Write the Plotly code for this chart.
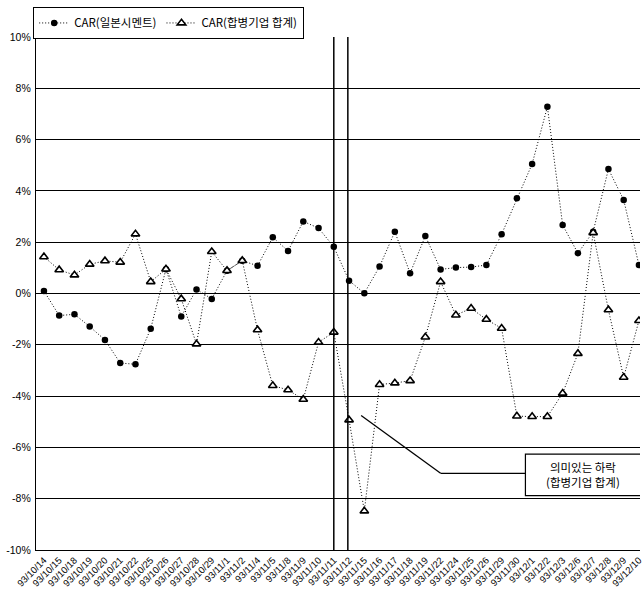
import plotly.graph_objects as go

# Trading days (yy/mm/dd)
dates = [
    "93/10/14", "93/10/15", "93/10/18", "93/10/19", "93/10/20", "93/10/21",
    "93/10/22", "93/10/25", "93/10/26", "93/10/27", "93/10/28", "93/10/29",
    "93/11/1", "93/11/2", "93/11/4", "93/11/5", "93/11/8", "93/11/9",
    "93/11/10", "93/11/11", "93/11/12", "93/11/15", "93/11/16", "93/11/17",
    "93/11/18", "93/11/19", "93/11/22", "93/11/24", "93/11/25", "93/11/26",
    "93/11/29", "93/11/30", "93/12/1", "93/12/2", "93/12/3", "93/12/6",
    "93/12/7", "93/12/8", "93/12/9", "93/12/10",
]

# Cumulative abnormal returns (%)
car_ilbon = [
    0.10, -0.86, -0.81, -1.29, -1.81, -2.71, -2.76, -1.37, 0.95, -0.90,
    0.16, -0.21, 0.89, 1.28, 1.08, 2.19, 1.66, 2.81, 2.55, 1.82,
    0.50, 0.01, 1.05, 2.41, 0.79, 2.24, 0.94, 1.01, 1.03, 1.11,
    2.31, 3.71, 5.05, 7.28, 2.67, 1.57, 2.41, 4.85, 3.65, 1.11,
]
car_merged = [
    1.43, 0.92, 0.72, 1.14, 1.27, 1.22, 2.32, 0.46, 0.95, -0.21,
    -1.97, 1.63, 0.89, 1.28, -1.42, -3.59, -3.76, -4.13, -1.90, -1.51,
    -4.93, -8.48, -3.55, -3.49, -3.40, -1.70, 0.46, -0.84, -0.58, -1.01,
    -1.36, -4.78, -4.80, -4.80, -3.89, -2.34, 2.37, -0.64, -3.27, -1.06,
]

y_ticks = [10, 8, 6, 4, 2, 0, -2, -4, -6, -8, -10]
y_tick_text = ["10%", "8%", "6%", "4%", "2%", "0%", "-2%", "-4%", "-6%", "-8%", "-10%"]

latin = "Liberation Sans, Arial, sans-serif"
kr = "Noto Sans CJK KR, Liberation Sans, sans-serif"
dotted = "1px,2px"

fig = go.Figure()

fig.add_trace(go.Scatter(
    x=dates, y=car_ilbon, name="CAR(일본시멘트)", mode="lines+markers",
    line=dict(color="black", width=1, dash=dotted),
    marker=dict(symbol="circle", size=6.5, color="black"),
))
fig.add_trace(go.Scatter(
    x=dates, y=car_merged, name="CAR(합병기업 합계)", mode="lines+markers",
    line=dict(color="black", width=1, dash=dotted),
    marker=dict(symbol="triangle-up", size=7.5, color="white",
                line=dict(color="black", width=1.6)),
))

# Event window markers
for xi in (19, 19.92):
    fig.add_shape(type="line", xref="x", yref="y", x0=xi, x1=xi, y0=-10, y1=10,
                  line=dict(color="black", width=1.5), layer="above")

# Callout for the significant drop
fig.add_shape(type="line", xref="x", yref="y", x0=20.79, y0=-4.76, x1=26.0, y1=-7.01,
              line=dict(color="black", width=1.3))
fig.add_shape(type="line", xref="x", yref="y", x0=26.0, y0=-7.01, x1=31.56, y1=-7.01,
              line=dict(color="black", width=1.3))
fig.add_shape(type="rect", xref="x", yref="y", x0=31.56, x1=40.5, y0=-7.88, y1=-6.26,
              line=dict(color="black", width=1.2), fillcolor="white")
fig.add_annotation(x=35.33, y=-7.07, xref="x", yref="y", showarrow=False,
                   text="의미있는 하락<br>(합병기업 합계)",
                   font=dict(family=kr, size=11.5, color="black"), align="center")

fig.update_layout(
    width=644, height=599,
    margin=dict(l=36, r=0, t=37, b=49),
    paper_bgcolor="white", plot_bgcolor="white",
    showlegend=True,
    legend=dict(orientation="h", x=-0.005, y=1.058, xanchor="left", yanchor="top",
                bordercolor="black", borderwidth=1.2, bgcolor="white",
                font=dict(family=kr, size=11.5, color="black"),
                itemwidth=30, tracegroupgap=0),
    font=dict(family=latin, color="black"),
)

fig.update_xaxes(
    type="category", range=[-0.52, 39.07],
    tickangle=-45, tickfont=dict(family=latin, size=9.5, color="black"),
    showgrid=False, showline=True, linecolor="black", linewidth=1.2,
    ticks="", zeroline=False,
)
fig.update_yaxes(
    range=[-10, 10], tickvals=y_ticks, ticktext=y_tick_text,
    tickfont=dict(family=latin, size=10.5, color="black"),
    showgrid=True, gridcolor="black", gridwidth=1.2,
    showline=True, linecolor="black", linewidth=1.2,
    zeroline=False, ticks="", ticklabelstandoff=2,
)

fig.write_html("out.html")
